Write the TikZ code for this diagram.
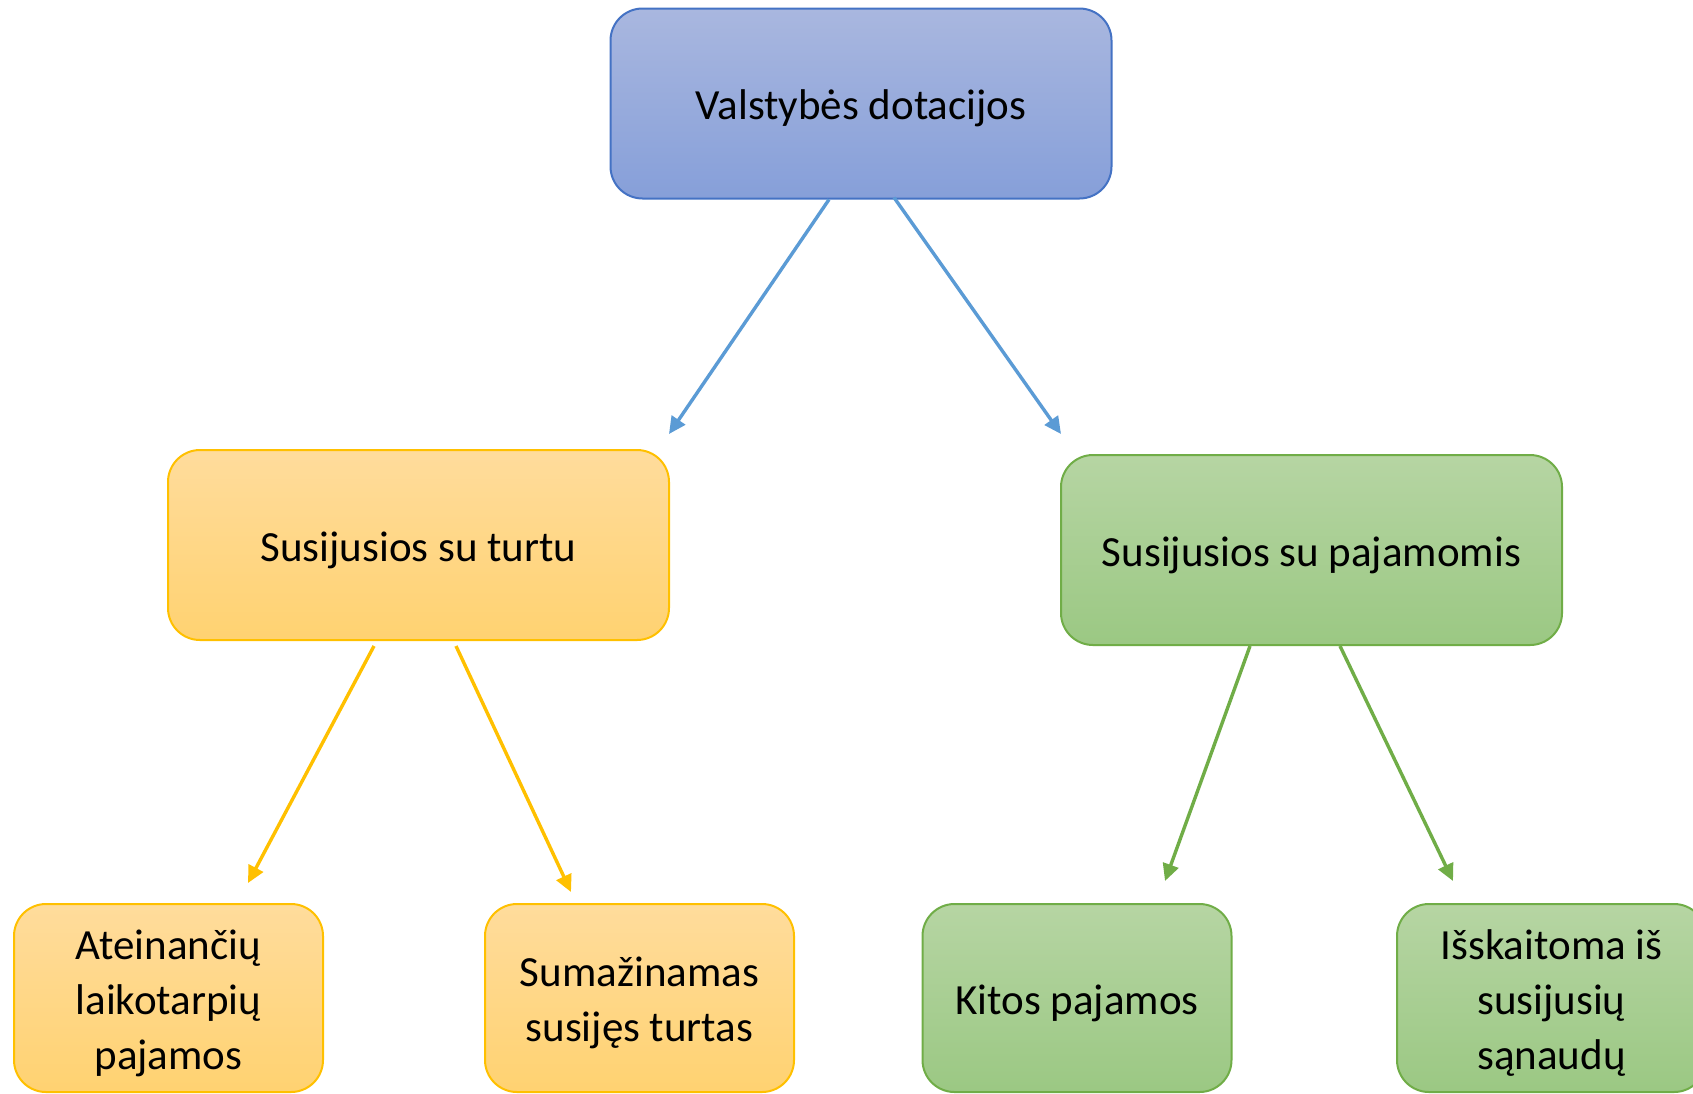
\documentclass[tikz,border=0pt]{standalone}
\usepackage{fontspec}
\setmainfont{Carlito}
\usetikzlibrary{arrows.meta}
\definecolor{bluetop}{HTML}{A9B7DF}
\definecolor{bluebot}{HTML}{869FD9}
\definecolor{blueline}{HTML}{4472C4}
\definecolor{bluearrow}{HTML}{5B9BD5}
\definecolor{goldtop}{HTML}{FFDC9C}
\definecolor{goldbot}{HTML}{FFD271}
\definecolor{goldline}{HTML}{FFC000}
\definecolor{greentop}{HTML}{B6D5A3}
\definecolor{greenbot}{HTML}{9BC883}
\definecolor{greenline}{HTML}{70AD47}
\begin{document}
\begin{tikzpicture}[x=1pt,y=-1pt,
  txt/.style={align=center, inner sep=0pt, yshift=-5pt,
    font=\fontsize{43}{55}\selectfont, text=black},
  box/.style={draw, line width=2pt, rounded corners=32pt, inner sep=0pt},
  bigbox/.style={box, minimum width=501pt, minimum height=190pt},
  smallbox/.style={box, minimum width=309pt, minimum height=188pt},
  bluebox/.style={draw=blueline, top color=bluetop, bottom color=bluebot},
  goldbox/.style={draw=goldline, top color=goldtop, bottom color=goldbot},
  greenbox/.style={draw=greenline, top color=greentop, bottom color=greenbot},
  conn/.style={line width=3.4pt, -{Triangle[length=17pt,width=16pt]}},
]
\clip (0,0) rectangle (1693,1093);
\fill[white] (0,0) rectangle (1693,1093);

\node[bigbox, bluebox, label={[txt]center:Valstybės dotacijos}] (top) at (861,103.5) {};
\node[bigbox, goldbox, label={[txt]center:Susijusios su turtu}] (turtu) at (418.5,545) {};
\node[bigbox, greenbox, label={[txt]center:Susijusios su pajamomis}] (pajamomis) at (1311.5,550) {};

\node[smallbox, goldbox, label={[txt]center:Ateinančių\\laikotarpių\\pajamos}] (ateinanciu) at (168.5,998) {};
\node[smallbox, goldbox, label={[txt]center:Sumažinamas\\susijęs turtas}] (sumazinamas) at (639.5,998) {};
\node[smallbox, greenbox, label={[txt]center:Kitos pajamos}] (kitos) at (1077,998) {};
\node[smallbox, greenbox, label={[txt]center:Išskaitoma iš\\susijusių\\sąnaudų}] (isskaitoma) at (1551.5,998) {};

\coordinate (e1) at (669,434);
\coordinate (e2) at (1061,434);
\coordinate (e3) at (248,883);
\coordinate (e4) at (571,892);
\coordinate (e5) at (1165,881);
\coordinate (e6) at (1453,881);

\draw[conn, bluearrow] ([xshift=-32pt]top.south) -- (e1);
\draw[conn, bluearrow] ([xshift=33pt,yshift=2pt]top.south) -- (e2);
\draw[conn, goldline] ([xshift=-44.5pt,yshift=-5pt]turtu.south) -- (e3);
\draw[conn, goldline] ([xshift=37.5pt,yshift=-5pt]turtu.south) -- (e4);
\draw[conn, greenline] ([xshift=-61.5pt]pajamomis.south) -- (e5);
\draw[conn, greenline] ([xshift=28.5pt]pajamomis.south) -- (e6);
\end{tikzpicture}
\end{document}
